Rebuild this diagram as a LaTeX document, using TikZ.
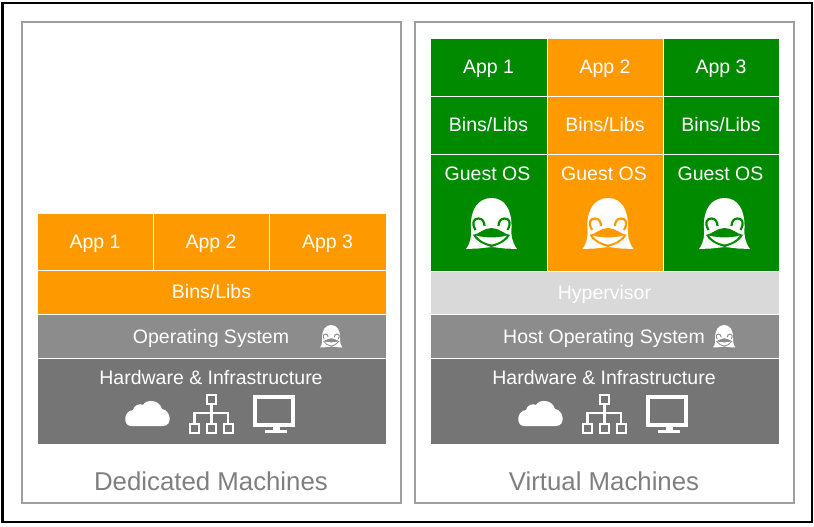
\documentclass[tikz,border=0pt]{standalone}
\usepackage{fontspec}
\setmainfont{Liberation Sans}
\definecolor{org}{HTML}{FF9900}
\definecolor{grn}{HTML}{008A00}
\definecolor{gra}{HTML}{8C8C8C}
\definecolor{drk}{HTML}{757575}
\definecolor{lgt}{HTML}{D9D9D9}
\definecolor{ttl}{HTML}{7F7F7F}
\tikzset{
 cell/.style={draw=white,line width=0.9pt,outer sep=0pt,inner sep=0pt,text=white,text height=14pt,text depth=1pt,font=\fontsize{19.5}{22}\selectfont},
 panel/.style={draw=black!38,line width=1.6pt,outer sep=0pt,fill=white},
 title/.style={text=ttl,font=\fontsize{25.8}{30}\selectfont,inner sep=0pt},
 lab/.style={text=white,inner sep=0pt,text height=14pt,text depth=1pt,font=\fontsize{19.5}{22}\selectfont},
}
% #1 x #2 y (top-left) #3 size #4 inner color
\newcommand{\penguin}[4]{%
\begin{scope}[shift={(#1,#2)},scale=#3]
 \fill[white] (0,51) .. controls (5,44) and (5.5,38) .. (5,30) .. controls (4,12) and (12,0) .. (25.5,0) .. controls (39,0) and (46,12) .. (45.5,30) .. controls (45,38) and (46,44) .. (51,51) -- (39,50.5) -- (26,49) -- (12,50.5) -- cycle;
 \fill[#4] (7,37) .. controls (13,36) and (18,30) .. (25.5,30) .. controls (33,30) and (38,36) .. (44,37) .. controls (41,43) and (34,46.5) .. (25.5,49) .. controls (17,46.5) and (10,43) .. (7,37) -- cycle;
 \fill[white] (10,37.5) .. controls (17,40) and (34,40) .. (41,37.5) .. controls (37,43) and (31,45.5) .. (25.5,46.5) .. controls (20,45.5) and (14,43) .. (10,37.5) -- cycle;
 \draw[#4,line width=2.2*#3] (9.5,32) .. controls (5,24) and (8,20.5) .. (12.5,20.5) .. controls (16.5,20.5) and (18.5,24) .. (18.5,28);
 \draw[#4,line width=2.2*#3] (41.5,32) .. controls (46,24) and (43,20.5) .. (38.5,20.5) .. controls (34.5,20.5) and (32.5,24) .. (32.5,28);
\end{scope}}
\newcommand{\hwicons}[2]{%
\begin{scope}[shift={(#1,#2)}]
 \fill[white] (5,29) .. controls (-3,29) and (-3,14) .. (7,13) .. controls (8,8) and (14,6) .. (17,8) .. controls (20,2) and (33,2) .. (36,12) .. controls (45,13) and (47,29) .. (37,29) -- cycle;
 \begin{scope}[draw=white,line width=2.2pt]
 \draw (81.1,-1.9) rectangle (89.9,6.9);
 \draw (64.1,27.1) rectangle (72.9,35.9);
 \draw (81.1,27.1) rectangle (89.9,35.9);
 \draw (97.9,27.1) rectangle (106.7,35.9);
 \draw (85.5,6.9) -- (85.5,27.1);
 \draw (68.5,27.1) -- (68.5,16) -- (102.3,16) -- (102.3,27.1);
 \end{scope}
 \draw[white,line width=4pt] (129,0) rectangle (167,28);
 \fill[white] (147,28) rectangle (154,33);
 \fill[white] (139,33) rectangle (161,36);
\end{scope}}
\begin{document}
\begin{tikzpicture}[x=1pt,y=-1pt]
\useasboundingbox (0,0) rectangle (814,527);
\fill[white] (0,0) rectangle (814,527);
\draw[black,line width=2.6pt] (2.5,3) rectangle (812,522);
\node[panel,minimum width=379pt,minimum height=481pt,anchor=north west,inner sep=0pt] (pl) at (22,22) {};
\node[panel,minimum width=379pt,minimum height=481pt,anchor=north west,inner sep=0pt] (pr) at (415,22) {};
\foreach \n/\x/\w/\y/\h/\c/\t in {
 la/37/116/213/57/org/App 1, lb/153/116/213/57/org/App 2, lc/269/117/213/57/org/App 3,
 ld/37/349/270/44/org/Bins\slash Libs,
 ra/430/117/38/58/grn/App 1, rb/547/116/38/58/org/App 2, rc/663/116/38/58/grn/App 3,
 rd/430/117/96/58/grn/Bins\slash Libs, re/547/116/96/58/org/Bins\slash Libs, rf/663/116/96/58/grn/Bins\slash Libs,
 rh/430/349/271/43/lgt/Hypervisor}
 {\node[cell,fill=\c,anchor=north west,minimum width=\w pt,minimum height=\h pt] (\n) at (\x,\y) {\t};}
\foreach \n/\x/\w/\y/\h/\c in {
 le/37/349/314/44/gra, lf/37/349/358/86/drk,
 rg/430/117/154/117/grn, ri/547/116/154/117/org, rj/663/116/154/117/grn,
 rk/430/349/314/44/gra, rl/430/349/358/86/drk}
 {\node[cell,fill=\c,anchor=north west,minimum width=\w pt,minimum height=\h pt] (\n) at (\x,\y) {};}
\node[lab] (t1) at (211,337) {Operating System};
\node[lab] (t2) at (211,378) {Hardware \& Infrastructure};
\node[lab] (t3) at (604,337) {Host Operating System};
\node[lab] (t4) at (604,378) {Hardware \& Infrastructure};
\node[lab] (g1) at (487.5,174) {Guest OS};
\node[lab] (g2) at (604,174) {Guest OS};
\node[lab] (g3) at (720.5,174) {Guest OS};
\node[title] (d) at (211,481) {Dedicated Machines};
\node[title] (v) at (604,481) {Virtual Machines};
\penguin{466}{198}{1}{grn}
\penguin{582.5}{198}{1}{org}
\penguin{699}{198}{1}{grn}
\penguin{320}{325}{0.44}{gra}
\penguin{713}{325}{0.44}{gra}
\hwicons{126}{397}
\hwicons{519}{397}
\end{tikzpicture}
\end{document}
